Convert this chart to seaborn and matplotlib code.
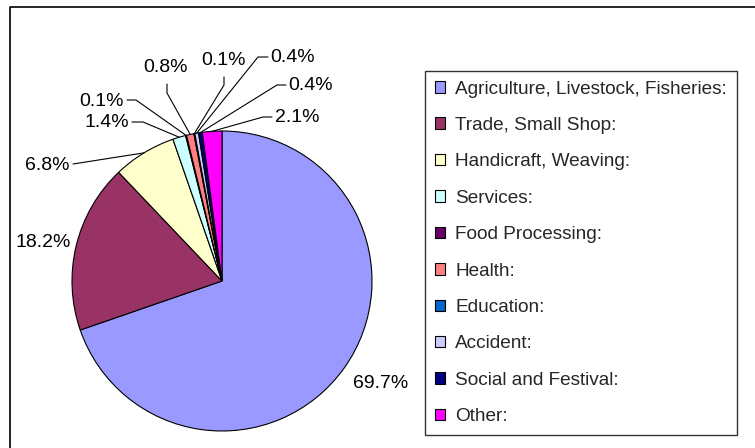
import matplotlib
matplotlib.use("Agg")
import matplotlib.pyplot as plt
from matplotlib.patches import Patch
import numpy as np
import seaborn as sns

# data
categories = [
    "Agriculture, Livestock, Fisheries:",
    "Trade, Small Shop:",
    "Handicraft, Weaving:",
    "Services:",
    "Food Processing:",
    "Health:",
    "Education:",
    "Accident:",
    "Social and Festival:",
    "Other:",
]
shares = [69.7, 18.2, 6.8, 1.4, 0.1, 0.8, 0.1, 0.4, 0.4, 2.1]
pct_labels = [f"{v:.1f}%" for v in shares]
colors = ["#9999FF", "#993366", "#FFFFCC", "#CCFFFF", "#660066",
          "#FF8080", "#0066CC", "#CCCCFF", "#000080", "#FF00FF"]

W, H = 755, 448
# label layout in pixels from the top left: text x, text y, alignment, elbow of leader
label_layout = [
    (381, 383, "center", None),
    (71, 242, "right", None),
    (70, 165, "right", [(73, 164)]),
    (129, 122, "right", [(132, 122), (143, 122)]),
    (124, 101, "right", [(127, 100), (136, 100)]),
    (166, 67, "center", [(167, 84), (167, 93)]),
    (223, 60, "center", [(224, 77), (224, 85)]),
    (270, 57, "left", [(268, 57), (258, 57)]),
    (288, 85, "left", [(286, 85), (277, 85)]),
    (275, 117, "left", [(272, 117), (263, 117)]),
]

sns.set_theme(style="white")
plt.rcParams["font.family"] = ["Liberation Sans", "DejaVu Sans"]

fig = plt.figure(figsize=(W / 100, H / 100), dpi=100)
ax = fig.add_axes([0, 0, 1, 1])

cx, cy, r = 222, 281, 150
wedges, _ = ax.pie(shares, colors=sns.color_palette(colors), startangle=90,
                   counterclock=False, center=(cx, H - cy), radius=r,
                   wedgeprops=dict(edgecolor="black", linewidth=0.8))
ax.set_xlim(0, W)
ax.set_ylim(0, H)
ax.axis("off")

# percent labels + leader lines
for w, txt, (tx, ty, ha, elbow) in zip(wedges, pct_labels, label_layout):
    ax.text(tx, H - ty, txt, ha=ha, va="center", fontsize=14, color="black")
    if elbow:
        mid = np.deg2rad((w.theta1 + w.theta2) / 2)
        ex = cx + r * np.cos(mid)
        ey = (H - cy) + r * np.sin(mid)
        xs = [p[0] for p in elbow] + [ex]
        ys = [H - p[1] for p in elbow] + [ey]
        ax.plot(xs, ys, color="black", lw=0.8)

# outer chart frame (only left and top edges visible)
ax.plot([10, 10, W + 5], [-5, H - 7, H - 7], color="black", lw=1.2, clip_on=False)

handles = [Patch(facecolor=c, edgecolor="black", linewidth=0.8, label=cat)
           for c, cat in zip(colors, categories)]
leg = fig.legend(handles=handles, loc="upper left",
                 bbox_to_anchor=(425 / W, 1 - 71 / H), frameon=True,
                 fancybox=False, edgecolor="black", fontsize=13.7,
                 handlelength=0.55, handleheight=0.55, handletextpad=0.55,
                 labelspacing=1.02, borderpad=0.5, borderaxespad=0)
leg.get_frame().set_linewidth(1)

fig.savefig("out.png", dpi=100, facecolor="white")
